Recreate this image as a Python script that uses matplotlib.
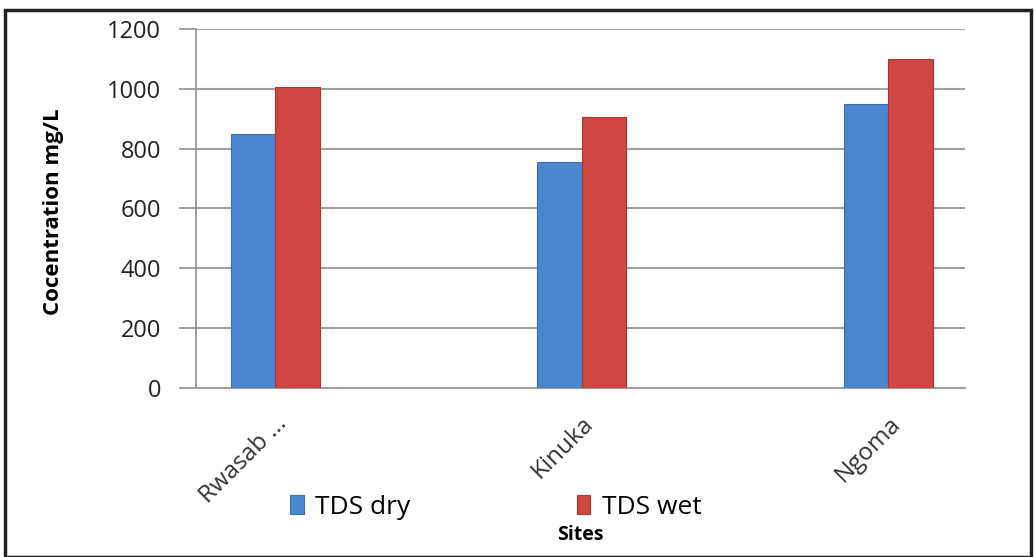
import matplotlib.pyplot as plt
import numpy as np
from matplotlib.patches import Rectangle

plt.rcParams['font.family'] = ['Open Sans', 'DejaVu Sans']

sites = ['Rwasab ...', 'Kinuka', 'Ngoma']
tds_dry = [850, 755, 950]
tds_wet = [1005, 905, 1100]
yticks = [0, 200, 400, 600, 800, 1000, 1200]

fig = plt.figure(figsize=(10.34, 5.57), dpi=100)
ax = fig.add_axes([196 / 1034, 1 - 388 / 557, (965 - 196) / 1034, (388 - 29) / 557])

x = np.arange(len(sites))
w = 0.145
ax.bar(x - w / 2, tds_dry, w, color='#4a86cf', edgecolor='#3a6fb0', linewidth=0.8,
       label='TDS dry', zorder=3)
ax.bar(x + w / 2, tds_wet, w, color='#cf4642', edgecolor='#a83632', linewidth=0.8,
       label='TDS wet', zorder=3)

ax.set_ylim(0, 1200)
ax.set_xlim(-0.258, 2.25)
ax.set_yticks(yticks)
ax.set_yticklabels([str(t) for t in yticks], fontsize=17, color='#222222')
ax.yaxis.grid(True, color='#a0a0a0', linewidth=1.5, zorder=0)
ax.tick_params(axis='y', length=12, color='#909090', width=1.2, pad=13)
ax.tick_params(axis='x', length=0, pad=17)
ax.set_xticks(x)
ax.set_xticklabels(sites, rotation=45, ha='right', rotation_mode='anchor',
                   fontsize=17.5, color='#333333')
for s in ['top', 'right']:
    ax.spines[s].set_visible(False)
ax.spines['left'].set_color('#909090')
ax.spines['left'].set_linewidth(1.2)
ax.spines['bottom'].set_color('#a0a0a0')
ax.spines['bottom'].set_linewidth(1.5)

ax.set_ylabel('Cocentration mg/L', fontsize=16, fontweight='bold')
ax.yaxis.set_label_coords(-0.172, 0.49)

fig.text(580 / 1034, 1 - 535 / 557, 'Sites', fontsize=14, fontweight='bold',
         ha='center', va='center')
ax.legend(loc='center', bbox_to_anchor=(496 / 1034, 1 - 507 / 557),
          bbox_transform=fig.transFigure, ncol=2, frameon=True, facecolor='white',
          edgecolor='none', framealpha=1, fontsize=19, handlelength=0.5,
          handleheight=0.7, columnspacing=6.3, handletextpad=0.45,
          borderpad=0.1)

fig.patches.append(Rectangle((5 / 1034, 0), 1026 / 1034, 1 - 10 / 557,
                             transform=fig.transFigure, fill=False,
                             edgecolor='#222222', linewidth=2.5))

fig.savefig('out.png', dpi=100)
